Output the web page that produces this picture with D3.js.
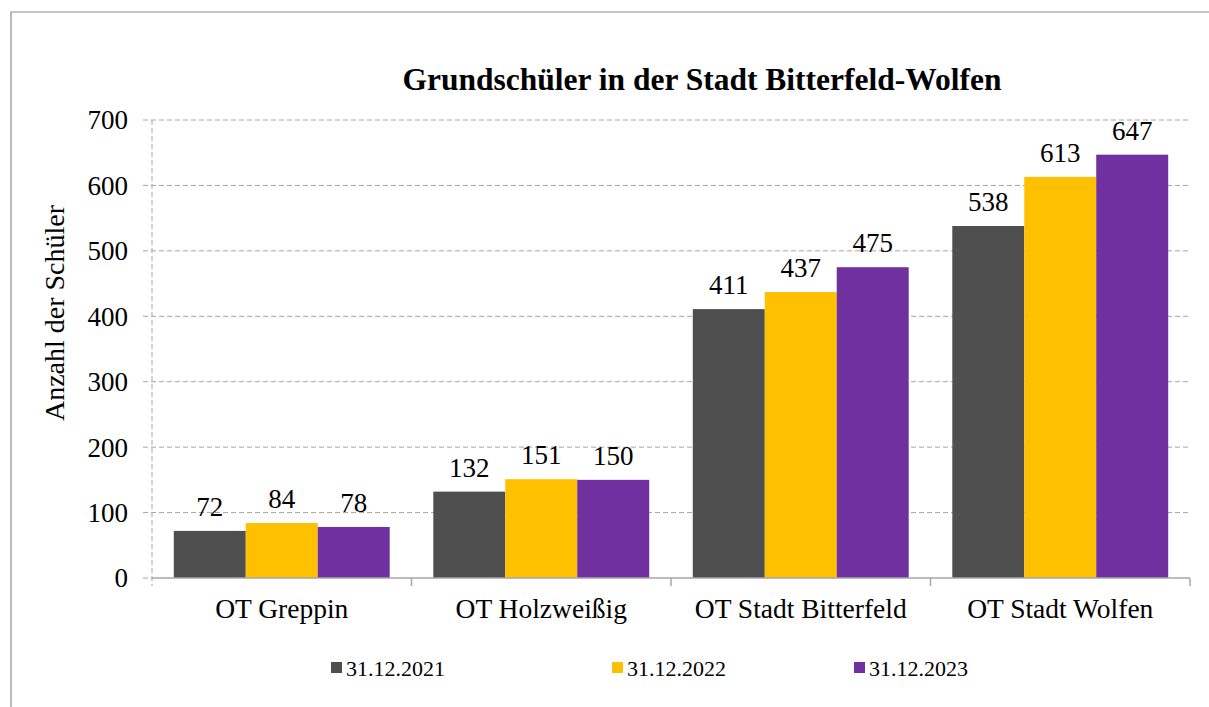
<!DOCTYPE html>
<html>
<head>
<meta charset="utf-8">
<script src="https://cdn.jsdelivr.net/npm/d3@7"></script>
<style>
  body { margin: 0; background: #fff; }
  svg text { font-family: "Liberation Serif", "Times New Roman", serif; fill: #000; }
</style>
</head>
<body>
<div id="chart"></div>
<script>
// --- data ---
const categories = ["OT Greppin", "OT Holzweißig", "OT Stadt Bitterfeld", "OT Stadt Wolfen"];
const seriesNames = ["31.12.2021", "31.12.2022", "31.12.2023"];
const v2021 = [72, 132, 411, 538];
const v2022 = [84, 151, 437, 613];
const v2023 = [78, 150, 475, 647];
const yTicks = [0, 100, 200, 300, 400, 500, 600, 700];
const colors = ["#4f4f4f", "#ffc000", "#7030a0"];

const series = [v2021, v2022, v2023];
const rows = categories.map((c, i) => ({ cat: c, vals: series.map(s => s[i]) }));

const width = 1209, height = 707;
const svg = d3.select("#chart").append("svg")
    .attr("width", width).attr("height", height);

// outer frame (only left + top visible in the crop)
svg.append("path")
    .attr("d", "M11,707 V12 H1209")
    .attr("fill", "none").attr("stroke", "#8c8c8c").attr("stroke-width", 1.2);

const plot = { left: 152, right: 1190, top: 120, bottom: 578 };

const x0 = d3.scaleBand()
    .domain(categories)
    .range([plot.left, plot.right])
    .paddingInner(0.168).paddingOuter(0.084);
const x1 = d3.scaleBand()
    .domain(d3.range(seriesNames.length))
    .range([0, x0.bandwidth()]);
const y = d3.scaleLinear().domain([0, 700]).range([plot.bottom, plot.top]);

// gridlines (dashed, with small left ticks)
svg.append("g").selectAll("line")
    .data(yTicks.filter(t => t > 0))
    .join("line")
    .attr("x1", plot.left - 9).attr("x2", plot.right)
    .attr("y1", d => y(d)).attr("y2", d => y(d))
    .attr("stroke", "#a6a6a6").attr("stroke-dasharray", "5,3");

// dashed y axis line
svg.append("line")
    .attr("x1", plot.left).attr("x2", plot.left)
    .attr("y1", plot.top).attr("y2", plot.bottom + 8)
    .attr("stroke", "#a6a6a6").attr("stroke-dasharray", "5,3");
svg.append("line")
    .attr("x1", plot.left - 9).attr("x2", plot.left)
    .attr("y1", plot.bottom).attr("y2", plot.bottom)
    .attr("stroke", "#a6a6a6").attr("stroke-dasharray", "5,3");

// y tick labels
svg.append("g").selectAll("text")
    .data(yTicks)
    .join("text")
    .attr("x", plot.left - 24)
    .attr("y", d => y(d))
    .attr("dy", "0.35em")
    .attr("text-anchor", "end")
    .style("font-size", "27px")
    .text(d => d);

// bars
const groups = svg.append("g").selectAll("g")
    .data(rows)
    .join("g")
    .attr("transform", d => `translate(${x0(d.cat)},0)`);

groups.selectAll("rect")
    .data(d => d.vals.map((v, i) => ({ v, i })))
    .join("rect")
    .attr("x", d => x1(d.i))
    .attr("width", x1.bandwidth())
    .attr("y", d => y(d.v))
    .attr("height", d => y(0) - y(d.v))
    .attr("fill", d => colors[d.i]);

groups.selectAll("text")
    .data(d => d.vals.map((v, i) => ({ v, i })))
    .join("text")
    .attr("x", d => x1(d.i) + x1.bandwidth() / 2)
    .attr("y", d => y(d.v) - 15)
    .attr("text-anchor", "middle")
    .style("font-size", "27px")
    .text(d => d.v);

// x axis (solid) with boundary ticks
const boundaries = categories.map(c => x0(c) - x0.step() * x0.paddingOuter()).concat([plot.right]);
svg.append("line")
    .attr("x1", plot.left).attr("x2", plot.right)
    .attr("y1", plot.bottom).attr("y2", plot.bottom)
    .attr("stroke", "#a6a6a6").attr("stroke-width", 1.5);
svg.append("g").selectAll("line")
    .data(boundaries.slice(1))
    .join("line")
    .attr("x1", d => d).attr("x2", d => d)
    .attr("y1", plot.bottom).attr("y2", plot.bottom + 8)
    .attr("stroke", "#a6a6a6").attr("stroke-width", 1.5);

// category labels
svg.append("g").selectAll("text")
    .data(categories)
    .join("text")
    .attr("x", d => x0(d) + x0.bandwidth() / 2)
    .attr("y", 618)
    .attr("text-anchor", "middle")
    .style("font-size", "27.5px")
    .text(d => d);

// title
svg.append("text")
    .attr("x", 702).attr("y", 90)
    .attr("text-anchor", "middle")
    .style("font-size", "31.5px").style("font-weight", "bold")
    .text("Grundschüler in der Stadt Bitterfeld-Wolfen");

// y axis title
svg.append("text")
    .attr("transform", "translate(64,313) rotate(-90)")
    .attr("text-anchor", "middle")
    .style("font-size", "28px")
    .text("Anzahl der Schüler");

// legend
const legendX = [331, 612, 854];
const legend = svg.append("g").selectAll("g")
    .data(seriesNames)
    .join("g")
    .attr("transform", (d, i) => `translate(${legendX[i]},668)`);
legend.append("rect")
    .attr("x", 0).attr("y", -6).attr("width", 11).attr("height", 11)
    .attr("fill", (d, i) => colors[i]);
legend.append("text")
    .attr("x", 15).attr("y", 0).attr("dy", "0.35em")
    .style("font-size", "22px")
    .text(d => d);
</script>
</body>
</html>
